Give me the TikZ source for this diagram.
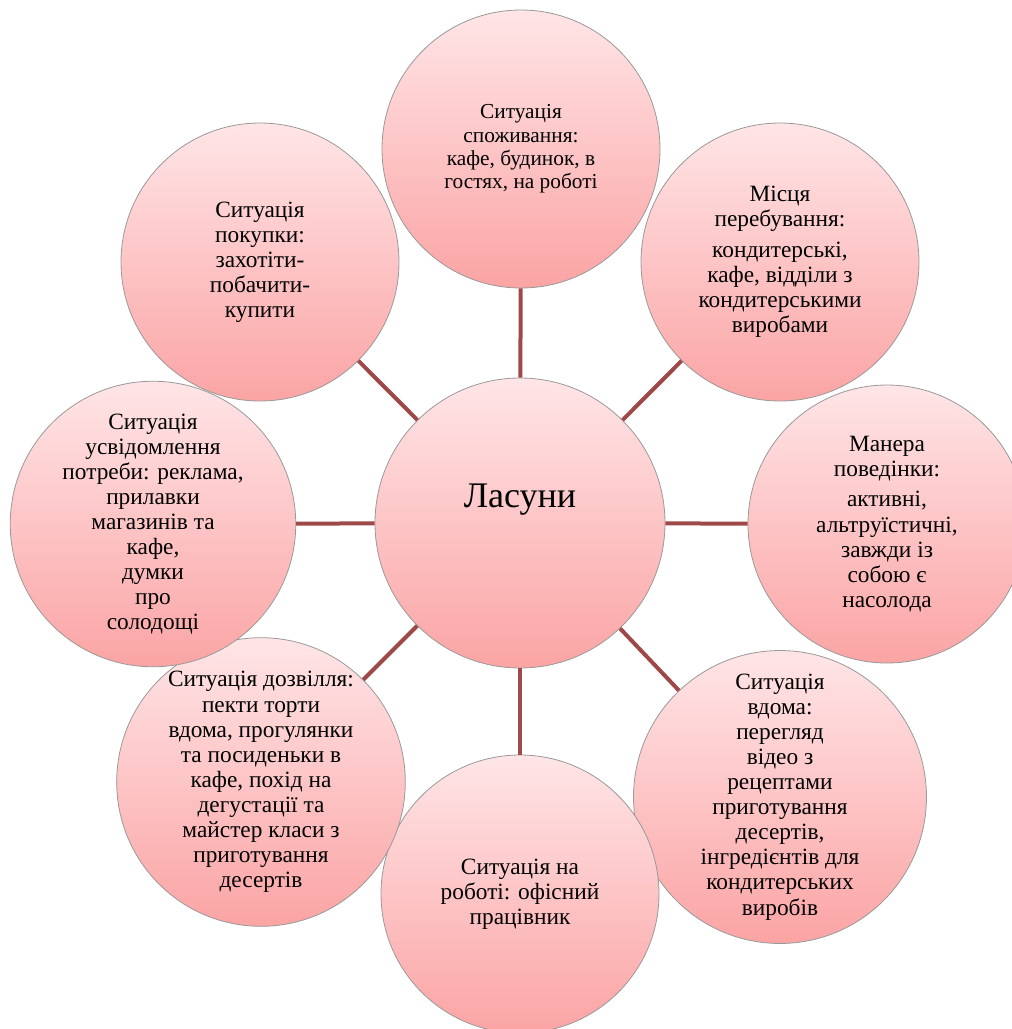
\documentclass[tikz,border=0pt]{standalone}
\usepackage{fontspec}
\setmainfont{Liberation Serif}
\usetikzlibrary{calc}

\definecolor{spokered}{RGB}{158,72,72}
\definecolor{pinktop}{RGB}{255,229,231}
\definecolor{pinkbot}{RGB}{251,164,164}

\tikzset{
	bubble/.style={circle, draw=black!40, line width=0.6pt, top color=pinktop, bottom color=pinkbot,
		minimum size=208.5pt, inner sep=0pt, align=center, font=\fontsize{17.5}{18.8}\selectfont},
	spoke/.style={draw=spokered, line width=3pt}
}

\begin{document}
\begin{tikzpicture}[x=0.75pt, y=-0.75pt]
			%%%%% START %%%%%
			\useasboundingbox (0, 0) rectangle (1012, 1029);
			
			% centre
			\node[bubble, minimum size=217.5pt, font=\fontsize{27}{30}\selectfont] (lasuny) at (520, 523) {\raisebox{12pt}[0pt][0pt]{Ласуни}};
			
			% outer ring
			\node[bubble, font=\fontsize{16}{17.5}\selectfont] (spozh) at (521, 149) {Ситуація\\споживання:\\кафе, будинок, в\\гостях, на роботі};
			\node[bubble] (mistse) at (780, 262) {Місця\\перебування:\\[4pt]кондитерські,\\кафе, відділи з\\кондитерськими\\виробами};
			\node[bubble] (manera) at (887, 524) {Манера\\поведінки:\\[4pt]активні,\\альтруїстичні,\\завжди із\\собою є\\насолода};
			\node[bubble] (vdoma) at (780, 797) {Ситуація\\вдома:\\перегляд\\відео з\\рецептами\\приготування\\десертів,\\інгредієнтів для\\кондитерських\\виробів};
			\node[bubble] (robota) at (520, 894) {Ситуація на\\роботі: офісний\\працівник};
			\node[bubble] (dozvil) at (261, 782) {Ситуація дозвілля:\\пекти торти\\вдома, прогулянки\\та посиденьки в\\кафе, похід на\\дегустації та\\майстер класи з\\приготування\\десертів};
			\node[bubble] (potreba) at (153, 524) {Ситуація\\усвідомлення\\потреби: реклама,\\прилавки\\магазинів та\\кафе,\\думки\\про\\солодощі};
			\node[bubble] (pokupka) at (260, 262) {Ситуація\\покупки:\\захотіти-\\побачити-\\купити};
			
			% spokes
			\draw[spoke] (lasuny) -- (spozh);
			\draw[spoke] (lasuny) -- (mistse);
			\draw[spoke] (lasuny) -- (manera);
			\draw[spoke] (lasuny) -- (vdoma);
			\draw[spoke] (lasuny) -- (robota);
			\draw[spoke] (lasuny) -- (dozvil);
			\draw[spoke] (lasuny) -- (potreba);
			\draw[spoke] (lasuny) -- (pokupka);
			
			%%%%% END %%%%%
\end{tikzpicture}
\end{document}
